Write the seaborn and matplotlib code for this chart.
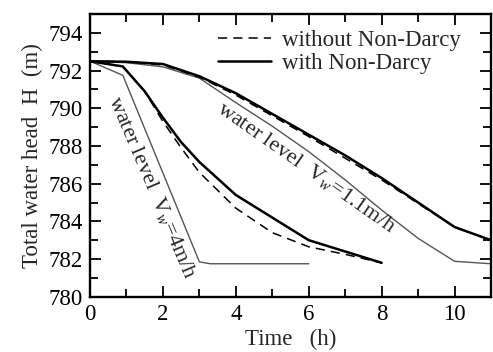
import numpy as np
import pandas as pd
import matplotlib
matplotlib.use("Agg")
import matplotlib.pyplot as plt
from matplotlib.lines import Line2D
from matplotlib.ticker import MultipleLocator
import seaborn as sns

# Water level drawdown (thin gray lines)
t_wl_fast = [0, 0.9, 3.0, 3.3, 6.0]
h_wl_fast = [792.5, 791.75, 781.85, 781.75, 781.75]
t_wl_slow = [0, 1, 2, 3, 4, 5, 6, 7, 8, 9, 10, 11]
h_wl_slow = [792.5, 792.42, 792.2, 791.6, 790.3, 789.05, 787.7, 786.2, 784.6, 783.1, 781.88, 781.75]

# Total head, Vw = 4 m/h
t_fast = [0, 0.9, 1.5, 2, 2.5, 3, 4, 5, 6, 7, 8]
h_fast_nd = [792.5, 792.22, 790.9, 789.5, 788.2, 787.15, 785.4, 784.2, 783.0, 782.4, 781.8]
h_fast_d = [792.5, 792.22, 790.9, 789.3, 787.9, 786.6, 784.7, 783.4, 782.65, 782.25, 781.8]

# Total head, Vw = 1.1 m/h
t_slow = [0, 1, 2, 3, 4, 5, 6, 7, 8, 9, 10, 11]
h_slow_nd = [792.5, 792.47, 792.35, 791.7, 790.8, 789.7, 788.6, 787.5, 786.3, 785.0, 783.7, 783.0]
h_slow_d = [792.5, 792.47, 792.3, 791.65, 790.7, 789.6, 788.5, 787.35, 786.2, 784.95, 783.7, 783.0]

sns.set_style("ticks")
plt.rcParams["font.family"] = ["Liberation Serif", "DejaVu Serif"]
plt.rcParams["mathtext.fontset"] = "custom"
plt.rcParams["mathtext.rm"] = "Liberation Serif"
plt.rcParams["mathtext.it"] = "Liberation Serif:italic"

fig = plt.figure(figsize=(4.93, 3.52), dpi=100)
ax = fig.add_axes([0.1826, 0.157, 0.8134, 0.803])

gray = "#555555"
sns.lineplot(x=t_wl_fast, y=h_wl_fast, ax=ax, color=gray, lw=1.0, sort=False)
sns.lineplot(x=t_wl_slow, y=h_wl_slow, ax=ax, color=gray, lw=1.0, sort=False)

dash = (6, 4)
sns.lineplot(x=t_fast, y=h_fast_d, ax=ax, color="black", lw=1.1, sort=False).lines[-1].set_dashes(dash)
sns.lineplot(x=t_slow, y=h_slow_d, ax=ax, color="black", lw=1.1, sort=False).lines[-1].set_dashes(dash)
sns.lineplot(x=t_fast, y=h_fast_nd, ax=ax, color="black", lw=1.8, sort=False)
sns.lineplot(x=t_slow, y=h_slow_nd, ax=ax, color="black", lw=1.8, sort=False)

ax.set_xlim(0, 11)
ax.set_ylim(780, 795)
ax.xaxis.set_major_locator(MultipleLocator(2))
ax.xaxis.set_minor_locator(MultipleLocator(1))
ax.yaxis.set_major_locator(MultipleLocator(2))
ax.yaxis.set_minor_locator(MultipleLocator(1))
ax.tick_params(which="both", direction="in", top=True, right=True,
               width=1.3, labelsize=16.5, colors="black")
ax.tick_params(which="major", length=8, pad=5)
ax.tick_params(which="minor", length=5.5)
for s in ax.spines.values():
    s.set_linewidth(1.7)
    s.set_color("black")

ax.set_xlabel("Time   (h)", fontsize=16.5, labelpad=3)
ax.set_ylabel("Total water head  H  (m)", fontsize=16.5, labelpad=4)

ax.text(1.69, 785.8, r"water level  V$_{w}$=4m/h", rotation=-67,
        rotation_mode="anchor", ha="center", va="center", fontsize=16)
ax.text(5.93, 786.86, r"water level  V$_{w}$=1.1m/h", rotation=-35,
        rotation_mode="anchor", ha="center", va="center", fontsize=16)

handles = [Line2D([], [], color="black", lw=1.1, dashes=dash),
           Line2D([], [], color="black", lw=1.8)]
ax.legend(handles, ["without Non-Darcy", "with Non-Darcy"], loc="upper right",
          bbox_to_anchor=(0.965, 1.0), frameon=False, fontsize=16.5,
          handlelength=2.3, handletextpad=0.5, labelspacing=0.1,
          borderaxespad=0.3)

fig.savefig("out.png", dpi=100)
